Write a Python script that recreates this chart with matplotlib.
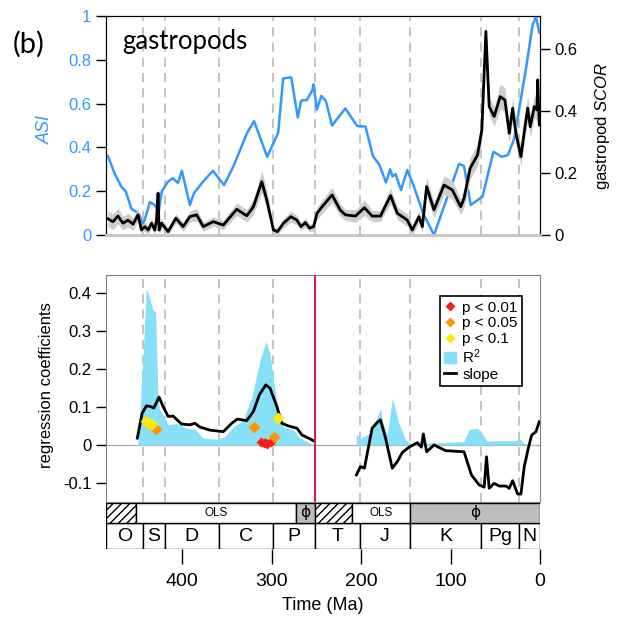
import matplotlib
matplotlib.use("Agg")
import matplotlib.pyplot as plt
from matplotlib.patches import Rectangle, Patch
from matplotlib.lines import Line2D

plt.rcParams['font.family'] = ['Liberation Sans', 'DejaVu Sans']
plt.rcParams['mathtext.fontset'] = 'custom'
plt.rcParams['mathtext.it'] = 'Liberation Sans:italic'
plt.rcParams['mathtext.rm'] = 'Liberation Sans'

# stage boundaries (Ma)
boundaries = [443.8, 419.2, 358.9, 298.9, 251.9, 201.3, 145.0, 66.0, 23.0]
pt_boundary = 251.9

# ASI through time
asi_age = [482.8, 475.3, 467.8, 463, 456.6, 451, 448, 444, 441.7, 436, 430.5, 426, 422.6, 415.9,
           410.3, 404.7, 400.2, 391.3, 386.8, 376.7, 365.5, 353.1, 343, 327.4, 319.5, 304.9,
           292.6, 287, 278, 270.7, 266.8, 260.7, 254.5, 253, 249.4, 244.4, 239.3, 232.4, 217.5,
           204.4, 195, 186.7, 179.4, 172.1, 167.4, 164.8, 161.4, 155.3, 148.3, 140.9, 130.6,
           118.5, 90.5, 84.9, 77.4, 64.2, 52.1, 42.6, 35.9, 28.8, 15.7, 8.2, 4.5, 0.8]
asi = [0.36, 0.28, 0.22, 0.20, 0.12, 0.105, 0.095, 0.05, 0.07, 0.15, 0.137, 0.11, 0.20, 0.243,
       0.26, 0.237, 0.293, 0.137, 0.19, 0.243, 0.293, 0.228, 0.31, 0.465, 0.52, 0.357,
       0.467, 0.715, 0.72, 0.537, 0.614, 0.616, 0.66, 0.688, 0.572, 0.635, 0.612, 0.50, 0.578,
       0.498, 0.495, 0.36, 0.32, 0.24, 0.30, 0.268, 0.278, 0.205, 0.297, 0.221, 0.099,
       0.0, 0.325, 0.315, 0.137, 0.175, 0.38, 0.357, 0.365, 0.44, 0.76, 0.96, 0.997, 0.925]

# gastropod SCOR with its uncertainty band
scor_age = [482.8, 477.2, 471.6, 466, 460.4, 454.8, 449.2, 445.4, 441.7, 438, 434.2, 430.5,
            428.6, 426.8, 425.7, 423, 415.6, 407, 398.8, 391.3, 383.7, 376.3, 365.1, 353.9,
            338.9, 327.7, 320.3, 310.9, 305.3, 297.9, 293.4, 286.7, 278.4, 271.6, 267.2,
            262.3, 257.5, 253, 249.2, 242.7, 232.4, 223.1, 217.5, 206.3, 196.2, 187.6, 178.3,
            167, 159.5, 148.3, 142.7, 135.3, 131.5, 126.7, 118.5, 107.3, 97.9, 88.6, 84.9,
            78.1, 69.8, 65, 60.5, 56.8, 51.2, 44.5, 39.2, 34.4, 30.6, 26.9, 21.3, 16.8, 13.8,
            10.9, 6.4, 3.4, 2.6, 0.8]
scor = [0.052, 0.043, 0.061, 0.038, 0.048, 0.035, 0.065, 0.016, 0.027, 0.016, 0.038, 0.016,
        0.048, 0.135, 0.016, 0.038, 0.011, 0.054, 0.027, 0.059, 0.065, 0.027, 0.043, 0.032,
        0.083, 0.062, 0.091, 0.172, 0.113, 0.016, 0.011, 0.038, 0.059, 0.048, 0.027,
        0.040, 0.022, 0.027, 0.070, 0.094, 0.129, 0.080, 0.065, 0.061, 0.088, 0.061, 0.061,
        0.127, 0.070, 0.048, 0.016, 0.059, 0.027, 0.156, 0.081, 0.161, 0.145, 0.091, 0.118,
        0.215, 0.258, 0.339, 0.656, 0.414, 0.382, 0.446, 0.435, 0.328, 0.409, 0.328, 0.253,
        0.349, 0.409, 0.349, 0.414, 0.403, 0.500, 0.355]
scor_err = [0.025, 0.025, 0.025, 0.022, 0.022, 0.02, 0.02, 0.015, 0.015, 0.015, 0.015, 0.015,
            0.015, 0.02, 0.015, 0.015, 0.012, 0.015, 0.015, 0.018, 0.02, 0.015, 0.015, 0.015,
            0.02, 0.02, 0.025, 0.035, 0.03, 0.012, 0.01, 0.015, 0.018, 0.015, 0.012,
            0.015, 0.012, 0.015, 0.02, 0.022, 0.025, 0.02, 0.018, 0.02, 0.025, 0.018, 0.018,
            0.025, 0.02, 0.02, 0.015, 0.02, 0.02, 0.03, 0.025, 0.03, 0.03, 0.025, 0.03,
            0.035, 0.035, 0.035, 0.03, 0.03, 0.03, 0.04, 0.04, 0.035, 0.035, 0.035, 0.03,
            0.035, 0.04, 0.035, 0.035, 0.035, 0.03, 0.03]

# rolling regression: R2 and slope, Paleozoic and post-Paleozoic windows
r2_early_age = [449.5, 448, 444, 440, 436.5, 432.5, 429.5, 427, 425, 419.5, 415.6, 406, 395,
                385.7, 376.3, 361.3, 352, 342.7, 331.5, 322, 312.8, 306.4, 301.6, 298, 292.3,
                286.7, 275.5, 268, 253]
r2_early = [0.0, 0.05, 0.22, 0.41, 0.39, 0.355, 0.35, 0.13, 0.092, 0.075, 0.053, 0.057, 0.044,
            0.041, 0.018, 0.015, 0.022, 0.048, 0.066, 0.127, 0.224, 0.272, 0.241, 0.171, 0.092,
            0.048, 0.039, 0.018, 0.0]
r2_late_age = [205.5, 205.2, 200.7, 189.5, 178.3, 176.3, 170.7, 165, 157.7, 150.2, 144.6,
               114.7, 84.9, 79.3, 69.8, 62.4, 58.6, 56.8, 28.8, 22, 17.6, 0]
r2_late = [0.0, 0.029, 0.018, 0.031, 0.095, 0.066, 0.026, 0.123, 0.057, 0.013, 0.003,
           0.006, 0.009, 0.041, 0.044, 0.022, 0.009, 0.011, 0.011, 0.015, 0.003, 0.0]

slope_early_age = [450, 444.7, 439.8, 435.3, 431.6, 425.7, 421.2, 415.6, 410, 400.6, 391.3,
                   385.7, 380, 368.8, 353.9, 344.5, 338.2, 327.7, 320.3, 313.6, 306.4, 301.6,
                   294.1, 288.5, 281.1, 271.6, 266, 258.6, 253]
slope_early = [0.018, 0.083, 0.103, 0.101, 0.097, 0.126, 0.101, 0.075, 0.076, 0.055, 0.053,
               0.057, 0.047, 0.039, 0.035, 0.057, 0.068, 0.064, 0.088, 0.132, 0.158, 0.149,
               0.101, 0.057, 0.050, 0.044, 0.026, 0.018, 0.011]
slope_late_age = [205.2, 200.7, 196.2, 187.6, 182, 178.3, 172.6, 165.1, 159.5, 153.9, 146.5,
                  137.1, 132.6, 130.4, 126.7, 118.5, 105.4, 84.9, 76.6, 68, 62.4, 59.8, 56.8,
                  51.2, 45.6, 38.1, 34.4, 30.6, 25, 21.3, 17.6, 13.1, 9.3, 4.5, 0.8]
slope_late = [-0.079, -0.057, -0.061, 0.044, 0.059, 0.066, 0.018, -0.061, -0.044, -0.02,
              -0.006, 0.006, -0.006, 0.029, -0.018, 0.0, -0.015, -0.018, -0.079, -0.105,
              -0.111, -0.031, -0.114, -0.101, -0.108, -0.108, -0.114, -0.094, -0.129, -0.129,
              -0.057, -0.009, 0.026, 0.035, 0.061]

p01_age = [312, 308.3, 306, 304.6, 300.8]
p01 = [0.008, 0.006, 0.004, 0.003, 0.008]
p05_age = [429.4, 319.5, 297.1]
p05 = [0.041, 0.047, 0.022]
p10_age = [440.6, 436.9, 433.1, 293]
p10 = [0.064, 0.055, 0.054, 0.072]

# time scale
period_names = ['O', 'S', 'D', 'C', 'P', 'T', 'J', 'K', 'Pg', 'N']
period_edges = [485, 443.8, 419.2, 358.9, 298.9, 251.9, 201.3, 145.0, 66.0, 23.0, 0]
method_labels = ['hatch', 'OLS', 'phi', 'hatch', 'OLS', 'phi']
method_edges = [485, 452, 272.5, 251.9, 210, 145, 0]
phi_pos = [262, 72]

blue = '#3399ff'
W, H = 618, 626


def rect(left, top, right, bottom):
    return [left / W, 1 - bottom / H, (right - left) / W, (bottom - top) / H]


def stage_lines(ax, skip=None):
    for b in boundaries:
        if b == skip:
            continue
        ax.axvline(b, color='#b4b4b4', lw=1.1, dashes=(6, 4), zorder=0)


fig = plt.figure(figsize=(W / 100, H / 100), dpi=100)

# top panel
ax1 = fig.add_axes(rect(106, 16, 540, 235))
stage_lines(ax1)
ax1.plot(asi_age, asi, color=blue, lw=1.8, zorder=3)
ax1.set_xlim(485, 0)
ax1.set_ylim(0, 1)
ax1.set_yticks([0, 0.2, 0.4, 0.6, 0.8, 1])
ax1.set_yticklabels(['0', '0.2', '0.4', '0.6', '0.8', '1'])
ax1.tick_params(axis='y', colors='black', labelcolor=blue, labelsize=12, length=7, width=1)
ax1.set_xticks([])

ax2 = ax1.twinx()
lo = [s - e for s, e in zip(scor, scor_err)]
hi = [s + e for s, e in zip(scor, scor_err)]
ax2.fill_between(scor_age, lo, hi, color='#cdcdcd', lw=0, zorder=1)
ax2.plot(scor_age, scor, color='black', lw=2, zorder=2)
ax2.set_ylim(0, 0.706)
ax2.set_yticks([0, 0.2, 0.4, 0.6])
ax2.set_yticklabels(['0', '0.2', '0.4', '0.6'])
ax2.tick_params(axis='y', labelsize=12, length=7, width=1)
ax2.set_xlim(485, 0)
for a in (ax1, ax2):
    a.spines['bottom'].set_color('#c8c8c8')
    a.spines['bottom'].set_linewidth(2)

fig.text(13 / W, 1 - 44 / H, '(b)', fontsize=21, family='Lato', va='center')
fig.text(122 / W, 1 - 42 / H, 'gastropods', fontsize=18.5, family='Lato', va='center')
fig.text(45 / W, 1 - 130 / H, 'ASI', fontsize=13, style='italic', color=blue,
         rotation=90, ha='center', va='center')
fig.text(602 / W, 1 - 126 / H, r'gastropod $\mathit{SCOR}$', fontsize=12,
         rotation=90, ha='center', va='center')

# bottom panel: rolling regression
ax3 = fig.add_axes(rect(106, 275, 540, 502))
stage_lines(ax3, skip=pt_boundary)
ax3.axhline(0, color='#aaaaaa', lw=0.9, zorder=1)
ax3.fill_between(r2_early_age, 0, r2_early, color='#88e0f8', lw=0, zorder=2)
ax3.fill_between(r2_late_age, 0, r2_late, color='#88e0f8', lw=0, zorder=2)
ax3.plot(slope_early_age, slope_early, color='black', lw=2, zorder=4)
ax3.plot(slope_late_age, slope_late, color='black', lw=2, zorder=4)
ax3.axvline(pt_boundary, color='#d81e4a', lw=1.5, zorder=5)
ax3.plot(p01_age, p01, 'D', color='#ff1a1a', ms=5, mec='none', zorder=6)
ax3.plot(p05_age, p05, 'D', color='#ff9500', ms=6, mec='none', zorder=6)
ax3.plot(p10_age, p10, 'D', color='#ffea00', ms=6, mec='none', zorder=6)
ax3.set_xlim(485, 0)
ax3.set_ylim(-0.15, 0.447)
ax3.set_yticks([-0.1, 0, 0.1, 0.2, 0.3, 0.4])
ax3.set_yticklabels(['-0.1', '0', '0.1', '0.2', '0.3', '0.4'])
ax3.tick_params(axis='y', labelsize=12, length=7, width=1)
ax3.set_xticks([])
for s in ax3.spines.values():
    s.set_color('#808080')
fig.text(47 / W, 1 - 385 / H, 'regression coefficients', fontsize=12,
         rotation=90, ha='center', va='center')

handles = [
    Line2D([], [], marker='D', ls='none', color='#ff1a1a', ms=5, mec='none'),
    Line2D([], [], marker='D', ls='none', color='#ff9500', ms=5, mec='none'),
    Line2D([], [], marker='D', ls='none', color='#ffea00', ms=5, mec='none'),
    Patch(color='#88e0f8'),
    Line2D([], [], color='black', lw=2),
]
labels = ['p < 0.01', 'p < 0.05', 'p < 0.1', 'R$^2$', 'slope']
leg = ax3.legend(handles, labels, loc='upper right', bbox_to_anchor=(0.977, 0.94),
                 fontsize=11, handlelength=0.8, handletextpad=0.4, labelspacing=0.1,
                 borderpad=0.3, fancybox=False, framealpha=1)
leg.get_frame().set_edgecolor('black')
leg.get_frame().set_linewidth(1.2)

# geologic time scale strip
ax4 = fig.add_axes(rect(106, 503, 540, 549))
ax4.set_xlim(485, 0)
ax4.set_ylim(0, 46)
for i, name in enumerate(period_names):
    a, b = period_edges[i], period_edges[i + 1]
    ax4.add_patch(Rectangle((b, 0), a - b, 26, fc='white', ec='black', lw=1))
    ax4.text((a + b) / 2, 12.5, name, fontsize=14, ha='center', va='center')
k = 0
for i, m in enumerate(method_labels):
    a, b = method_edges[i], method_edges[i + 1]
    if m == 'hatch':
        ax4.add_patch(Rectangle((b, 26), a - b, 20, fc='white', ec='black', lw=1, hatch='////'))
    elif m == 'OLS':
        ax4.add_patch(Rectangle((b, 26), a - b, 20, fc='white', ec='black', lw=1))
        ax4.text((a + b) / 2, 36, 'OLS', fontsize=8.5, ha='center', va='center')
    else:
        ax4.add_patch(Rectangle((b, 26), a - b, 20, fc='#bebebe', ec='black', lw=1))
        ax4.text(phi_pos[k], 36, '\u03d5', fontsize=11, ha='center', va='center',
                 family='DejaVu Sans')
        k += 1
for s in ax4.spines.values():
    s.set_visible(False)
ax4.set_yticks([])
ax4.set_xticks([400, 300, 200, 100, 0])
ax4.tick_params(axis='x', labelsize=14, length=11, width=1, pad=6)
fig.text(323 / W, 1 - 605 / H, 'Time (Ma)', fontsize=13, ha='center', va='center')

fig.savefig('out.png', dpi=100)
